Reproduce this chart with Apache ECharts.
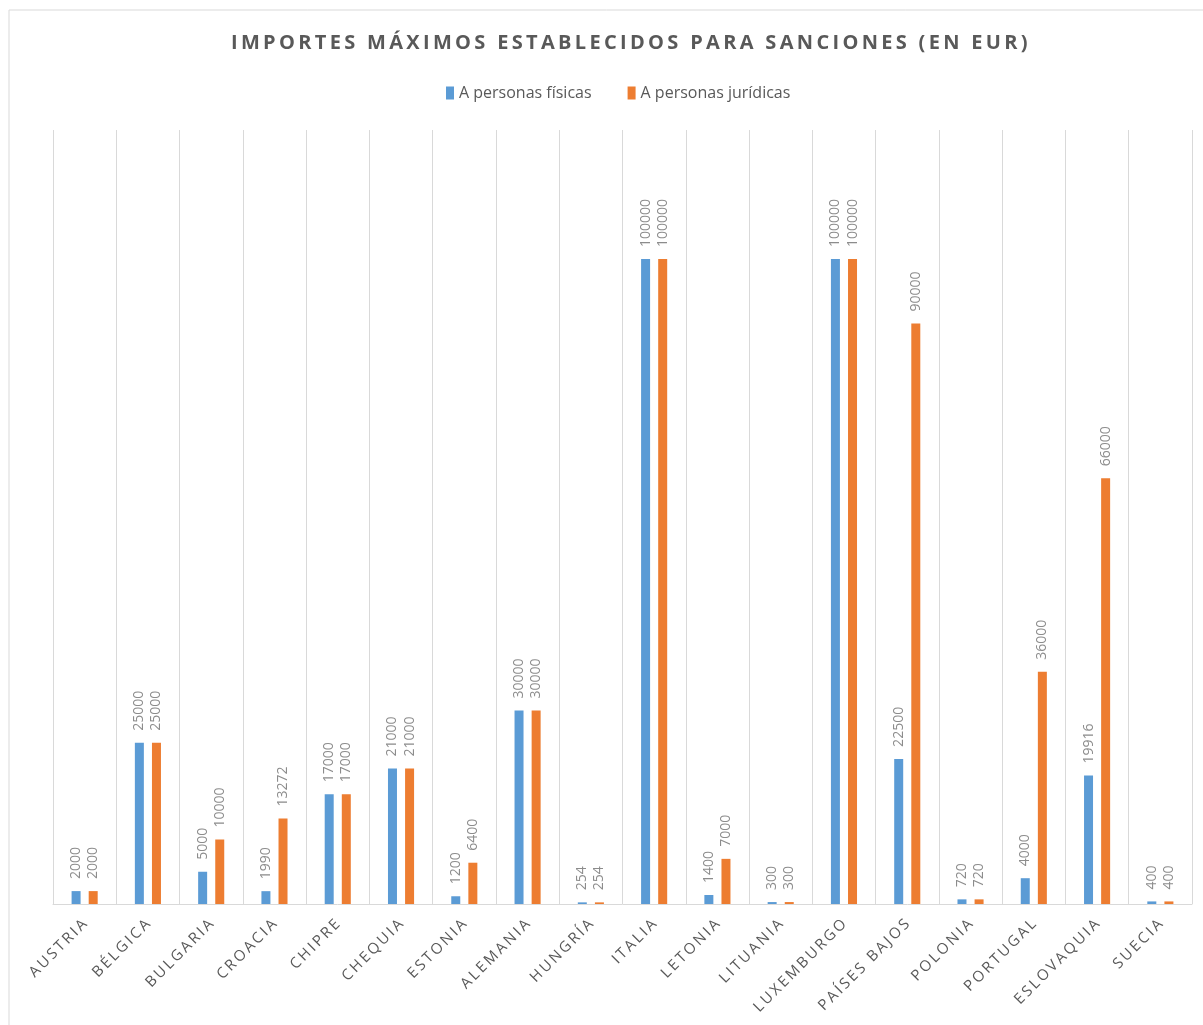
<!DOCTYPE html>
<html>
<head>
<meta charset="utf-8">
<script src="https://cdn.jsdelivr.net/npm/echarts@6/dist/echarts.min.js"></script>
<style>
  html, body { margin: 0; padding: 0; background: #fff; }
  #chart { width: 1203px; height: 1025px; }
</style>
</head>
<body>
<div id="chart"></div>
<script>
'use strict';

// data
var paises = ['AUSTRIA', 'BÉLGICA', 'BULGARIA', 'CROACIA', 'CHIPRE', 'CHEQUIA', 'ESTONIA', 'ALEMANIA', 'HUNGRÍA',
  'ITALIA', 'LETONIA', 'LITUANIA', 'LUXEMBURGO', 'PAÍSES BAJOS', 'POLONIA', 'PORTUGAL', 'ESLOVAQUIA', 'SUECIA'];
var fisicas = [2000, 25000, 5000, 1990, 17000, 21000, 1200, 30000, 254, 100000, 1400, 300, 100000, 22500, 720, 4000, 19916, 400];
var juridicas = [2000, 25000, 10000, 13272, 17000, 21000, 6400, 30000, 254, 100000, 7000, 300, 100000, 90000, 720, 36000, 66000, 400];

var font = '"Open Sans", "DejaVu Sans", sans-serif';

// spread letters a bit, like the original
function espaciar(s, sep) {
  return s.split('').join(sep);
}

var etiqueta = {
  show: true,
  position: 'top',
  rotate: 90,
  align: 'left',
  verticalAlign: 'middle',
  distance: 12,
  color: '#8c8c8c',
  fontSize: 14,
  fontFamily: font
};

var myChart = echarts.init(document.getElementById('chart'));
var option = {
  animation: false,
  backgroundColor: '#fff',
  graphic: [{
    type: 'rect',
    shape: { x: 9, y: 10, width: 1210, height: 1030 },
    style: { fill: 'none', stroke: '#d9d9d9', lineWidth: 1 },
    silent: true
  }],
  title: {
    text: espaciar('IMPORTES MÁXIMOS ESTABLECIDOS PARA SANCIONES (EN EUR)', '\u2009'),
    left: 226,
    top: 28,
    textStyle: { color: '#595959', fontSize: 20, fontWeight: 'bold', fontFamily: font }
  },
  legend: {
    top: 80,
    left: 441,
    itemWidth: 8,
    itemHeight: 13,
    itemGap: 36,
    icon: 'rect',
    textStyle: { color: '#595959', fontSize: 16, fontFamily: font },
    data: ['A personas físicas', 'A personas jurídicas']
  },
  grid: { left: 53, right: 11, top: 130, bottom: 121 },
  xAxis: {
    type: 'category',
    data: paises,
    axisLine: { lineStyle: { color: '#d9d9d9', width: 1 } },
    axisTick: { show: false },
    splitLine: { show: true, lineStyle: { color: '#d9d9d9', width: 1 } },
    axisLabel: {
      rotate: 45,
      interval: 0,
      margin: 18,
      color: '#595959',
      fontSize: 15,
      fontFamily: font,
      formatter: function (v) { return espaciar(v, '\u2009'); }
    }
  },
  yAxis: {
    type: 'value',
    min: 0,
    max: 120000,
    show: false,
    splitLine: { show: false }
  },
  series: [{
    name: 'A personas físicas',
    type: 'bar',
    data: fisicas,
    barWidth: 9,
    barGap: '90%',
    itemStyle: { color: '#5b9bd5' },
    label: etiqueta
  }, {
    name: 'A personas jurídicas',
    type: 'bar',
    data: juridicas,
    barWidth: 9,
    barGap: '90%',
    itemStyle: { color: '#ed7d31' },
    label: etiqueta
  }]
};
myChart.setOption(option);
</script>
</body>
</html>
